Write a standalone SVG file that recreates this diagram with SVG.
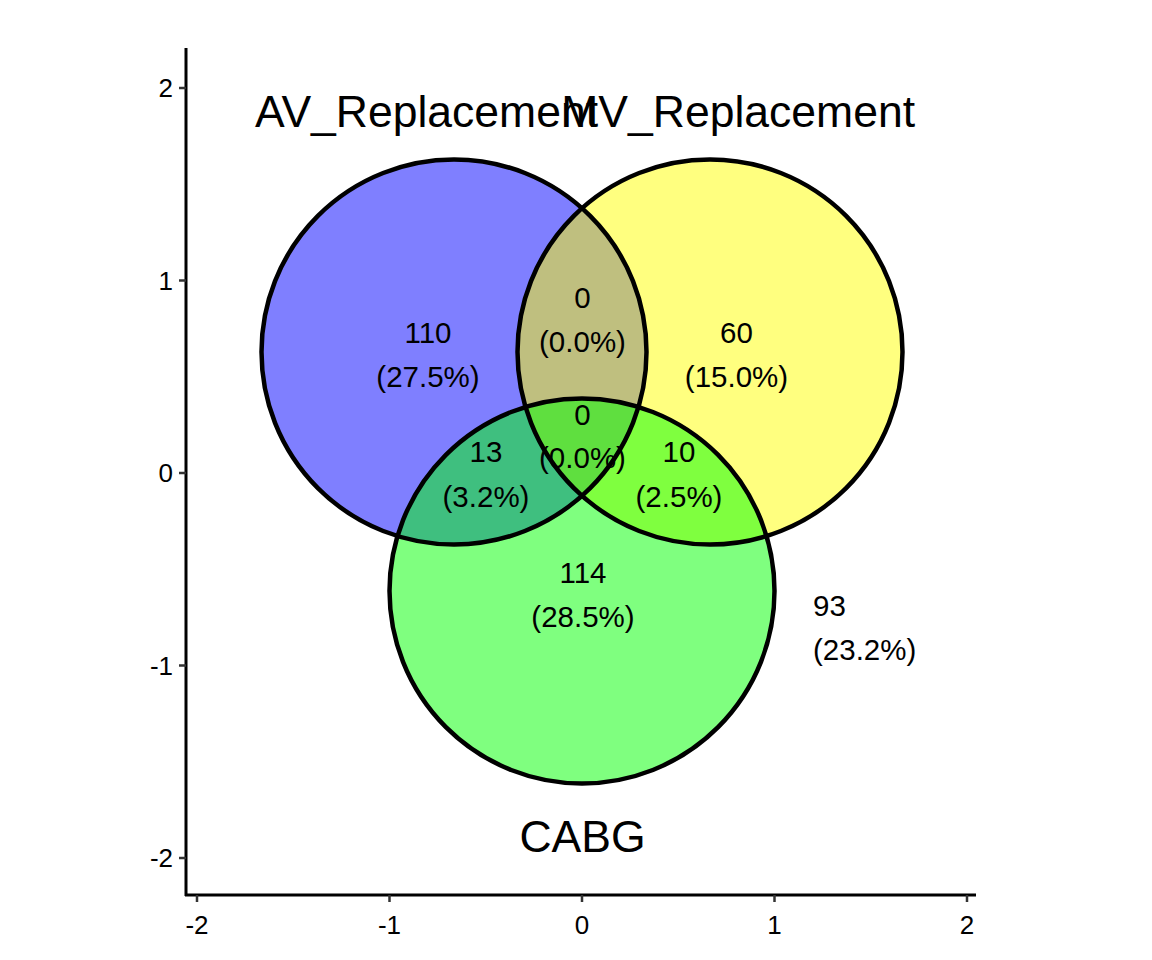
<svg xmlns="http://www.w3.org/2000/svg" width="1152" height="960" viewBox="0 0 1152 960">
<style>
.set{stroke:none;fill-opacity:0.5}
.ring{stroke:#000;stroke-width:4.5;fill:none}
.lbl{font-family:"Liberation Sans",Arial,sans-serif;font-size:29.5px;fill:#000;text-anchor:middle}
.lbls{font-family:"Liberation Sans",Arial,sans-serif;font-size:29.5px;fill:#000;text-anchor:start}
.setlbl{font-family:"Liberation Sans",Arial,sans-serif;font-size:44.5px;fill:#000}
.tick{font-family:"Liberation Sans",Arial,sans-serif;font-size:26px;fill:#000}
.axis{stroke:#000;stroke-width:3;fill:none}
.tk{stroke:#333;stroke-width:2.5}
</style>
<rect width="1152" height="960" fill="#fff"/>
<g id="axes">
<line class="axis" x1="186" y1="48" x2="186" y2="896"/>
<line class="axis" x1="185" y1="895" x2="976" y2="895"/>
<g class="tk">
<line x1="179" y1="88" x2="186" y2="88"/>
<line x1="179" y1="280.5" x2="186" y2="280.5"/>
<line x1="179" y1="473" x2="186" y2="473"/>
<line x1="179" y1="665.5" x2="186" y2="665.5"/>
<line x1="179" y1="858" x2="186" y2="858"/>
<line x1="197" y1="895" x2="197" y2="902"/>
<line x1="389.5" y1="895" x2="389.5" y2="902"/>
<line x1="582" y1="895" x2="582" y2="902"/>
<line x1="774.5" y1="895" x2="774.5" y2="902"/>
<line x1="967" y1="895" x2="967" y2="902"/>
</g>
<g class="tick" text-anchor="end">
<text x="173" y="97">2</text>
<text x="173" y="290">1</text>
<text x="173" y="482">0</text>
<text x="173" y="675">-1</text>
<text x="173" y="867">-2</text>
</g>
<g class="tick" text-anchor="middle">
<text x="197" y="934">-2</text>
<text x="389.5" y="934">-1</text>
<text x="582" y="934">0</text>
<text x="774.5" y="934">1</text>
<text x="967" y="934">2</text>
</g>
</g>
<g id="AV_Replacement"><circle class="set" cx="454" cy="352" r="192.5" fill="#0000FF"/></g>
<g id="MV_Replacement"><circle class="set" cx="710" cy="352" r="192.5" fill="#FFFF00"/></g>
<g id="CABG"><circle class="set" cx="582" cy="591" r="192.5" fill="#00FF00"/></g>
<g id="outlines">
<circle class="ring" cx="454" cy="352" r="192.5"/>
<circle class="ring" cx="710" cy="352" r="192.5"/>
<circle class="ring" cx="582" cy="591" r="192.5"/>
</g>
<g id="set-labels">
<text class="setlbl" x="255" y="127" text-anchor="start">AV_Replacement</text>
<text class="setlbl" x="915" y="127" text-anchor="end">MV_Replacement</text>
<text class="setlbl" x="582.5" y="852" text-anchor="middle">CABG</text>
</g>
<g id="region-labels">
<text class="lbl" x="428" y="343">110</text><text class="lbl" x="428" y="387">(27.5%)</text>
<text class="lbl" x="582.5" y="308">0</text><text class="lbl" x="582.5" y="352">(0.0%)</text>
<text class="lbl" x="736.5" y="343">60</text><text class="lbl" x="736.5" y="387">(15.0%)</text>
<text class="lbl" x="582.5" y="425">0</text><text class="lbl" x="582.5" y="468">(0.0%)</text>
<text class="lbl" x="486" y="462">13</text><text class="lbl" x="486" y="507">(3.2%)</text>
<text class="lbl" x="679" y="462">10</text><text class="lbl" x="679" y="507">(2.5%)</text>
<text class="lbl" x="583" y="583">114</text><text class="lbl" x="583" y="627">(28.5%)</text>
<text class="lbls" x="813" y="616">93</text><text class="lbls" x="813" y="660">(23.2%)</text>
</g>
</svg>
